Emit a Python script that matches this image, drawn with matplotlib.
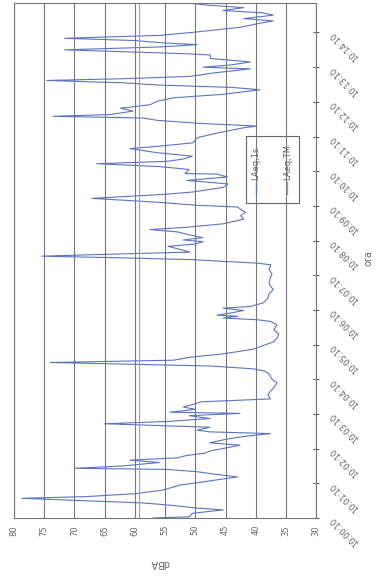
import numpy as np
import matplotlib
matplotlib.use("Agg")
import matplotlib.pyplot as plt
from matplotlib.patches import Rectangle

# seconds after 10:00:10 and LAeq,1s level (dBA)
secs = [0, 2, 8, 14, 17, 22, 26, 34, 37, 42, 48, 57, 62, 66, 71, 76, 80, 84, 86, 90,
        96, 100, 104, 108, 112, 116, 121, 126, 130, 136, 141, 146, 149, 152, 157, 163,
        167, 172, 177, 181, 183, 188, 192, 196, 201, 206, 213, 220, 228, 234, 240, 249,
        254, 258, 263, 269, 273, 278, 284, 292, 299, 305, 311, 318, 326, 334, 340, 343,
        346, 349, 351, 355, 359, 363, 366, 372, 380, 388, 395, 405, 415, 422, 430, 438,
        441, 444, 447, 450, 453, 457, 460, 466, 470, 474, 478, 481, 485, 490, 495, 499,
        503, 509, 517, 523, 529, 534, 538, 541, 546, 553, 557, 560, 564, 572, 578, 584,
        590, 595, 596, 603, 608, 613, 617, 621, 626, 632, 639, 643, 649, 658, 666, 675,
        678, 683, 688, 692, 695, 698, 704, 709, 715, 721, 727, 733, 741, 745, 749, 753,
        757, 760, 764, 770, 777, 780, 784, 789, 795, 801, 803, 810, 815, 819, 822, 826,
        830, 835, 841, 849, 856, 860, 864, 870, 874, 878, 883, 887, 891]
laeq_1s = [57.0, 51.0, 50.5, 45.4, 49.7, 54.0, 58.7, 78.7, 68.0, 60.0, 55.5, 52.5, 49.0,
           46.4, 43.0, 47.0, 49.7, 54.7, 69.9, 62.0, 56.0, 60.8, 53.0, 51.5, 48.5, 47.5,
           45.0, 42.6, 47.6, 45.0, 42.0, 37.6, 47.6, 49.7, 47.6, 65.0, 54.6, 47.6, 51.0,
           42.6, 54.2, 50.0, 52.0, 50.5, 49.0, 37.6, 38.0, 37.5, 36.8, 36.5, 37.3, 37.8,
           38.5, 40.4, 47.6, 74.0, 53.6, 50.9, 45.4, 40.4, 38.6, 37.0, 36.5, 36.2, 37.0,
           36.5, 37.5, 39.8, 45.4, 43.0, 46.4, 44.0, 42.0, 45.4, 40.9, 38.8, 38.0, 37.8,
           37.1, 37.8, 37.6, 37.3, 37.8, 37.5, 39.8, 45.4, 50.4, 61.9, 75.4, 62.0, 50.9,
           53.0, 54.5, 50.0, 48.7, 52.0, 48.8, 51.0, 53.0, 57.5, 51.4, 45.4, 42.0, 42.5,
           41.7, 42.5, 43.0, 49.7, 55.8, 67.1, 60.0, 55.0, 50.4, 45.4, 44.6, 51.4, 44.7,
           46.4, 51.7, 51.0, 56.0, 66.3, 54.7, 52.0, 50.5, 56.3, 60.8, 56.3, 50.4, 49.7,
           46.4, 42.1, 39.8, 49.7, 56.3, 58.6, 73.5, 64.1, 60.3, 62.4, 57.5, 56.3, 53.6,
           45.4, 39.3, 44.0, 56.0, 62.0, 74.6, 62.0, 50.9, 47.0, 40.9, 48.7, 44.0, 40.9,
           47.5, 47.5, 50.9, 71.6, 55.8, 49.7, 55.3, 60.0, 71.6, 55.8, 49.7, 42.6, 39.3,
           37.1, 42.0, 37.1, 38.8, 45.4, 42.0, 47.5, 51.4]
laeq_tm = 59.4

tick_secs = [0, 60, 120, 180, 240, 300, 360, 420, 480, 540, 600, 660, 720, 780, 840]
tick_labels = ["10:00:10", "10:01:10", "10:02:10", "10:03:10", "10:04:10",
               "10:05:10", "10:06:10", "10:07:10", "10:08:10", "10:09:10",
               "10:10:10", "10:11:10", "10:12:10", "10:13:10", "10:14:10"]
dba_ticks = [30, 35, 40, 45, 50, 55, 60, 65, 70, 75, 80]

blue = "#5b74c2"
red = "#e58080"
grey = "#666666"

fig = plt.figure(figsize=(3.8, 5.79), dpi=100)
ax = fig.add_axes([0.037, 0.1054, 0.795, 0.8894])

# chart is shown turned on its side: level runs right-to-left, time bottom-to-top
ax.plot(laeq_1s, secs, color=blue, lw=0.8)
ax.plot([laeq_tm, laeq_tm], [secs[0], secs[-1]], color=red, lw=0.8)

ax.set_xlim(80, 30)
ax.set_ylim(secs[0], secs[-1])
ax.set_xticks(dba_ticks)
ax.set_xticklabels([str(v) for v in dba_ticks], rotation=90, fontsize=6, color=grey)
ax.tick_params(axis="x", length=0, pad=5)
ax.grid(axis="x", color="#777777", lw=0.8)

ax.yaxis.tick_right()
ax.set_yticks(tick_secs)
ax.set_yticklabels(tick_labels, fontsize=6, color=grey)
for lab in ax.get_yticklabels():
    lab.set_rotation(135)
    lab.set_rotation_mode("anchor")
    lab.set_ha("right")
    lab.set_va("center")
ax.tick_params(axis="y", direction="inout", length=4, pad=9, color=grey)

for s in ax.spines.values():
    s.set_color("#777777")
    s.set_linewidth(0.8)

# legend box, turned like the rest
ax.add_patch(Rectangle((0.768, 0.612), 0.176, 0.130, transform=ax.transAxes,
                       fill=False, edgecolor=grey, lw=0.8))
ax.plot([0.80, 0.80], [0.630, 0.652], color=blue, lw=0.9, transform=ax.transAxes)
ax.text(0.80, 0.656, "LAeq,1s", rotation=90, fontsize=6, color=grey,
        ha="center", va="bottom", transform=ax.transAxes)
ax.plot([0.905, 0.905], [0.630, 0.652], color=red, lw=0.9, transform=ax.transAxes)
ax.text(0.905, 0.656, "LAeq,TM", rotation=90, fontsize=6, color=grey,
        ha="center", va="bottom", transform=ax.transAxes)

fig.text(160 / 380, 1 - 563 / 579, "dBA", rotation=180, fontsize=7, color=grey,
         ha="center", va="center")
fig.text(369 / 380, 1 - 258 / 579, "ora", rotation=90, fontsize=7, color=grey,
         ha="center", va="center")

fig.savefig("out.png", dpi=100)
